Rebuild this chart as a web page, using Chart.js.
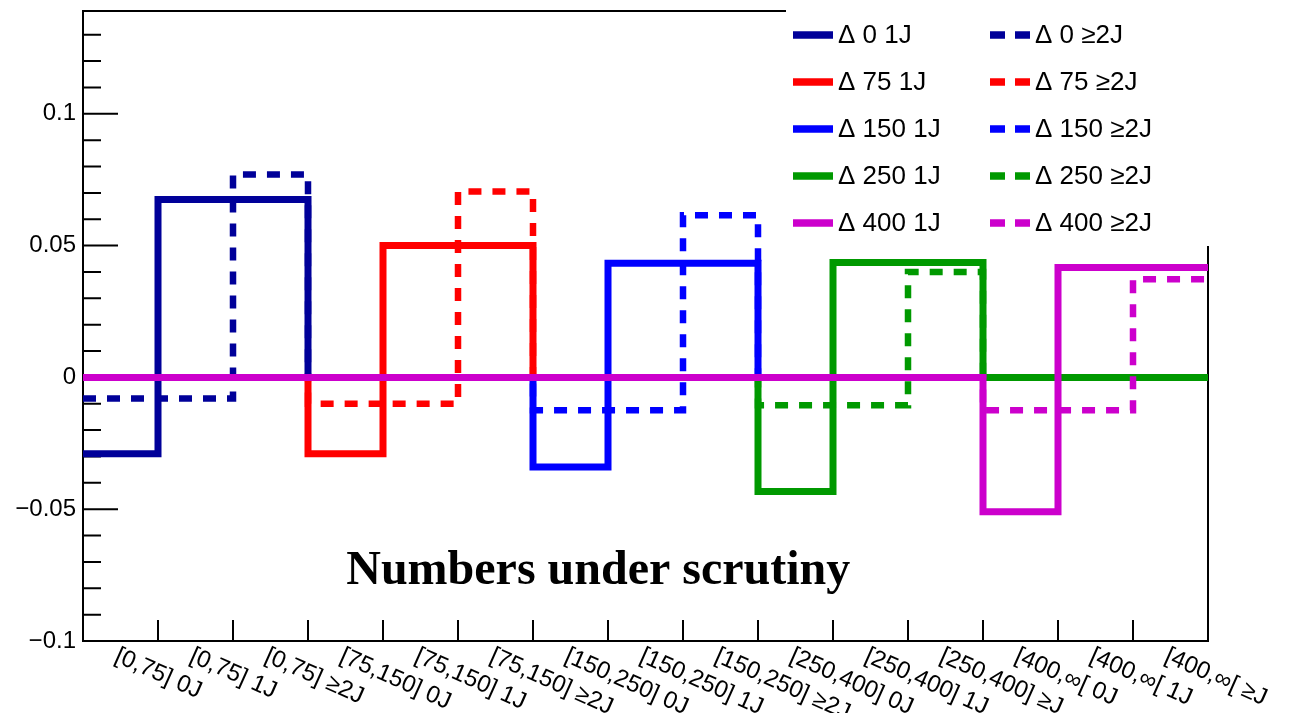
<!DOCTYPE html>
<html>
<head>
<meta charset="utf-8">
<script src="https://cdn.jsdelivr.net/npm/chart.js@4.4.1/dist/chart.umd.min.js"></script>
<style>
html,body{margin:0;padding:0;background:#ffffff;}
#wrap{width:1309px;height:713px;position:relative;}
</style>
</head>
<body>
<div id="wrap"><canvas id="c" width="1309" height="713"></canvas></div>
<script>
// ---------------- data ----------------
const binLabels = [
  "[0,75] 0J", "[0,75] 1J", "[0,75] ≥2J",
  "[75,150] 0J", "[75,150] 1J", "[75,150] ≥2J",
  "[150,250] 0J", "[150,250] 1J", "[150,250] ≥2J",
  "[250,400] 0J", "[250,400] 1J", "[250,400] ≥J",
  "[400,∞[ 0J", "[400,∞[ 1J", "[400,∞[ ≥J"
];
const seriesNames = [
  "Δ 0 1J", "Δ 0 ≥2J",
  "Δ 75 1J", "Δ 75 ≥2J",
  "Δ 150 1J", "Δ 150 ≥2J",
  "Δ 250 1J", "Δ 250 ≥2J",
  "Δ 400 1J", "Δ 400 ≥2J"
];
const d0_1J   = [-0.029, 0.0675, 0.0675, 0, 0, 0, 0, 0, 0, 0, 0, 0, 0, 0, 0];
const d0_2J   = [-0.008, -0.008, 0.077, 0, 0, 0, 0, 0, 0, 0, 0, 0, 0, 0, 0];
const d75_1J  = [0, 0, 0, -0.029, 0.050, 0.050, 0, 0, 0, 0, 0, 0, 0, 0, 0];
const d75_2J  = [0, 0, 0, -0.010, -0.010, 0.0705, 0, 0, 0, 0, 0, 0, 0, 0, 0];
const d150_1J = [0, 0, 0, 0, 0, 0, -0.034, 0.0433, 0.0433, 0, 0, 0, 0, 0, 0];
const d150_2J = [0, 0, 0, 0, 0, 0, -0.0125, -0.0125, 0.0615, 0, 0, 0, 0, 0, 0];
const d250_1J = [0, 0, 0, 0, 0, 0, 0, 0, 0, -0.0433, 0.0436, 0.0436, 0, 0, 0];
const d250_2J = [0, 0, 0, 0, 0, 0, 0, 0, 0, -0.0106, -0.0106, 0.040, 0, 0, 0];
const d400_1J = [0, 0, 0, 0, 0, 0, 0, 0, 0, 0, 0, 0, -0.051, 0.0417, 0.0417];
const d400_2J = [0, 0, 0, 0, 0, 0, 0, 0, 0, 0, 0, 0, -0.0125, -0.0125, 0.0372];
const seriesValues = [d0_1J, d0_2J, d75_1J, d75_2J, d150_1J, d150_2J, d250_1J, d250_2J, d400_1J, d400_2J];
const yMin = -0.1;
const yMax = 0.139;
const yMajorStep = 0.05;
const noteText = "Numbers under scrutiny";

// ---------------- styles ----------------
const seriesColors = ["#000099", "#000099", "#ff0000", "#ff0000", "#0000ff", "#0000ff", "#009900", "#009900", "#cc00cc", "#cc00cc"];
const SOLID_W = 7, DASH_W = 6.5, DASH = [13, 11];

// histogram -> step points at bin edges
function histPoints(vals) {
  const pts = vals.map((v, i) => ({x: i, y: v}));
  pts.push({x: vals.length, y: vals[vals.length - 1]});
  return pts;
}

const datasets = seriesValues.map((vals, i) => {
  const dashed = i % 2 === 1;
  return {
    label: seriesNames[i],
    data: histPoints(vals),
    borderColor: seriesColors[i],
    backgroundColor: seriesColors[i],
    borderWidth: dashed ? DASH_W : SOLID_W,
    borderDash: dashed ? DASH : [],
    borderCapStyle: 'butt',
    borderJoinStyle: 'miter',
    stepped: true,
    pointRadius: 0,
    fill: false,
    order: -i
  };
});

const rootStyle = {
  id: 'rootStyle',
  beforeDatasetsDraw(chart) {
    const {ctx, chartArea: a, scales: {x, y}} = chart;
    ctx.save();
    ctx.strokeStyle = '#000';
    ctx.lineWidth = 2;
    ctx.beginPath();
    for (let k = Math.round(yMin * 100); k <= Math.floor(yMax * 100); k++) {
      const py = y.getPixelForValue(k / 100);
      const len = (k % 5 === 0) ? 35 : 18;
      ctx.moveTo(a.left, py);
      ctx.lineTo(a.left + len, py);
    }
    for (let i = 1; i < binLabels.length; i++) {
      const px = x.getPixelForValue(i);
      ctx.moveTo(px, a.bottom);
      ctx.lineTo(px, a.bottom - 21);
    }
    ctx.stroke();
    ctx.strokeRect(a.left, a.top, a.right - a.left, a.bottom - a.top);
    ctx.restore();
  },
  afterDraw(chart) {
    const {ctx, chartArea: a, scales: {x, y}} = chart;
    ctx.save();
    // legend box (white, no border)
    ctx.fillStyle = '#ffffff';
    ctx.fillRect(786, 0, chart.width - 786, 246);
    ctx.font = '26px "Liberation Sans", Arial, sans-serif';
    ctx.textBaseline = 'middle';
    ctx.textAlign = 'left';
    chart.data.datasets.forEach((ds, i) => {
      const col = i % 2, row = Math.floor(i / 2);
      const sx = col ? 990 : 793;
      const ry = 35 + row * 47;
      ctx.strokeStyle = ds.borderColor;
      ctx.lineWidth = 7.5;
      ctx.lineCap = 'butt';
      ctx.setLineDash(col ? [15, 10] : []);
      ctx.beginPath();
      ctx.moveTo(sx, ry);
      ctx.lineTo(sx + 40, ry);
      ctx.stroke();
      ctx.setLineDash([]);
      ctx.fillStyle = '#000';
      ctx.fillText(ds.label, sx + 45, ry + 1);
    });
    // slanted bin labels
    ctx.font = '24px "Liberation Sans", Arial, sans-serif';
    ctx.textBaseline = 'alphabetic';
    ctx.fillStyle = '#000';
    binLabels.forEach((lab, i) => {
      const cx = x.getPixelForValue(i + 0.5);
      ctx.save();
      ctx.translate(cx - 7, a.bottom + 20);
      ctx.rotate(24 * Math.PI / 180);
      ctx.fillText(lab, 0, 0);
      ctx.restore();
    });
    // note
    ctx.font = 'bold 48px "Liberation Serif", "Times New Roman", serif';
    ctx.textAlign = 'center';
    ctx.fillText(noteText, x.getPixelForValue(6.87), 584);
    ctx.restore();
  }
};

new Chart(document.getElementById('c'), {
  type: 'line',
  data: {datasets},
  options: {
    responsive: false,
    animation: false,
    events: [],
    layout: {padding: {top: 11, right: 101, bottom: 72, left: 0}},
    plugins: {legend: {display: false}, tooltip: {enabled: false}, title: {display: false}},
    scales: {
      x: {type: 'linear', min: 0, max: binLabels.length, display: false},
      y: {
        type: 'linear', min: yMin, max: yMax,
        grid: {display: false, drawTicks: false},
        border: {display: false},
        ticks: {
          stepSize: yMajorStep,
          includeBounds: false,
          padding: 7,
          color: '#000',
          font: {family: '"Liberation Sans", Arial, sans-serif', size: 24},
          callback: (v) => {
            const r = Math.round(v * 100) / 100;
            if (r === 0) return '0';
            return (r < 0 ? '\u2212' : '') + String(Math.abs(r));
          }
        },
        afterFit: (s) => { s.width = 83; s.paddingTop = 0; s.paddingBottom = 0; }
      }
    }
  },
  plugins: [rootStyle]
});
</script>
</body>
</html>
